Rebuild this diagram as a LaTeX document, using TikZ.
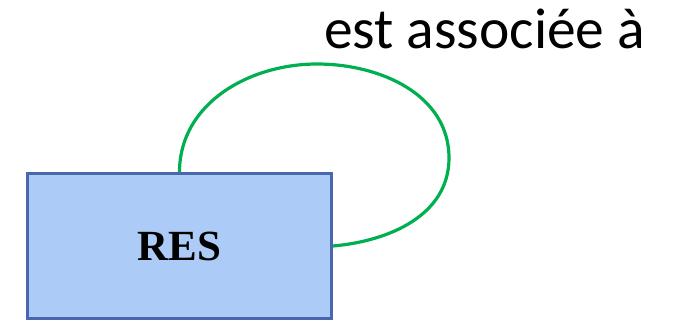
\documentclass[tikz,border=0pt]{standalone}
\usepackage{fontspec}
\setmainfont{Liberation Serif}
\newfontfamily\calfont{Carlito}
\usetikzlibrary{arrows.meta}
\usetikzlibrary{positioning}
\definecolor{boxfill}{HTML}{ADCBF7}
\definecolor{boxline}{HTML}{4A67AE}
\definecolor{loopgreen}{HTML}{00B050}

\begin{document}
\begin{tikzpicture}[x=1pt, y=1pt]
		\tikzset{
			entity/.style={draw=boxline, line width=3pt, fill=boxfill, minimum width=304pt, minimum height=145pt, inner sep=0pt, font=\fontsize{43}{50}\selectfont\bfseries},
			assoc/.style={draw=loopgreen, line width=3.2pt},
		}
		\useasboundingbox (0,0) rectangle (677,322);
		\node[entity] (res) at (179.5,76) {RES};
		\coordinate (looptop) at (317,258);
		\coordinate (loopright) at (449,164);
		
		\draw[assoc] (res.north) to[out=90, in=180] (looptop) to[out=0, in=90] (loopright) to[out=-90, in=5] (res.east);
		
		\node[anchor=base west, inner sep=0pt, font=\calfont\fontsize{57.5}{60}\selectfont] (label) at (324,273) {est associée à};
	\end{tikzpicture}
\end{document}
